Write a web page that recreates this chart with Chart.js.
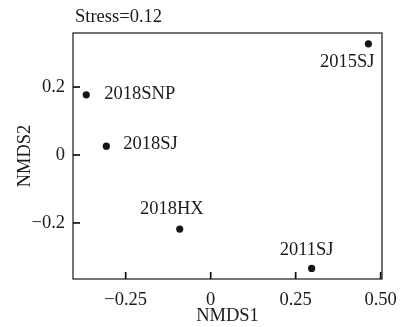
<!DOCTYPE html>
<html>
<head>
<meta charset="utf-8">
<script src="https://cdn.jsdelivr.net/npm/chart.js@4"></script>
<style>
  html, body { margin: 0; padding: 0; background: #fff; }
  #wrap { width: 408px; height: 327px; }
</style>
</head>
<body>
<div id="wrap"><canvas id="c" width="408" height="327"></canvas></div>
<script>
// NMDS ordination of sampling sites
const sites = ['2018SNP', '2018SJ', '2015SJ', '2018HX', '2011SJ'];
const nmds1 = [-0.366, -0.307, 0.464, -0.091, 0.297];
const nmds2 = [0.177, 0.026, 0.327, -0.218, -0.334];

const xTickValues = [-0.25, 0, 0.25, 0.5];
const xTickLabels = ['\u22120.25', '0', '0.25', '0.50'];
const yTickValues = [-0.2, 0, 0.2];
const yTickLabels = ['\u22120.2', '0', '0.2'];
const stressLabel = 'Stress=0.12';

const FONT = '"Liberation Serif", "Times New Roman", serif';
const INK = '#1a1a1a';

// where each site name sits relative to its point: [dx, dy, align]
const labelPlacement = {
  '2018SNP': [18, -1, 'left'],
  '2018SJ': [17, -2, 'left'],
  '2015SJ': [6, 18, 'right'],
  '2018HX': [-8, -20, 'center'],
  '2011SJ': [-5, -18, 'center']
};

const framePlugin = {
  id: 'frame',
  afterDraw(chart) {
    const { ctx, chartArea: ca, scales: { x, y } } = chart;
    ctx.save();
    ctx.strokeStyle = '#2a2a2a';
    ctx.lineWidth = 1.3;
    ctx.strokeRect(ca.left, ca.top, ca.right - ca.left, ca.bottom - ca.top);

    // inward tick marks
    ctx.strokeStyle = '#111';
    ctx.lineWidth = 1.7;
    for (const v of xTickValues) {
      const px = x.getPixelForValue(v);
      ctx.beginPath();
      ctx.moveTo(px, ca.bottom);
      ctx.lineTo(px, ca.bottom - 7);
      ctx.stroke();
    }
    for (const v of yTickValues) {
      const py = y.getPixelForValue(v);
      ctx.beginPath();
      ctx.moveTo(ca.left, py);
      ctx.lineTo(ca.left + 7, py);
      ctx.stroke();
    }

    // site names
    ctx.fillStyle = INK;
    ctx.font = '18.5px ' + FONT;
    ctx.textBaseline = 'middle';
    sites.forEach((s, i) => {
      const px = x.getPixelForValue(nmds1[i]);
      const py = y.getPixelForValue(nmds2[i]);
      const [dx, dy, align] = labelPlacement[s];
      ctx.textAlign = align;
      ctx.fillText(s, px + dx, py + dy);
    });

    // stress value above the frame
    ctx.textAlign = 'left';
    ctx.fillText(stressLabel, ca.left + 2, 17);
    ctx.restore();
  }
};

new Chart(document.getElementById('c'), {
  type: 'scatter',
  data: {
    datasets: [{
      data: sites.map((s, i) => ({ x: nmds1[i], y: nmds2[i] })),
      backgroundColor: '#151515',
      borderWidth: 0,
      pointRadius: 3.6,
      pointHoverRadius: 3.6
    }]
  },
  options: {
    responsive: false,
    animation: false,
    devicePixelRatio: 1,
    layout: { padding: { top: 33, right: 26, left: 0, bottom: 0 } },
    plugins: { legend: { display: false }, tooltip: { enabled: false } },
    scales: {
      x: {
        type: 'linear',
        min: -0.405,
        max: 0.504,
        afterBuildTicks: s => { s.ticks = xTickValues.map(v => ({ value: v })); },
        afterFit: s => { s.height = 48; },
        grid: { display: false, drawTicks: false },
        border: { display: false },
        ticks: {
          padding: 10,
          color: INK,
          font: { family: FONT, size: 18.5 },
          maxRotation: 0,
          autoSkip: false,
          callback: v => xTickLabels[xTickValues.indexOf(v)]
        },
        title: {
          display: true,
          text: 'NMDS1',
          color: INK,
          font: { family: FONT, size: 18.5, lineHeight: 1.2 },
          padding: { top: 2, bottom: 0 }
        }
      },
      y: {
        type: 'linear',
        min: -0.365,
        max: 0.359,
        afterBuildTicks: s => { s.ticks = yTickValues.map(v => ({ value: v })); },
        afterFit: s => { s.width = 73; },
        grid: { display: false, drawTicks: false },
        border: { display: false },
        ticks: {
          padding: 8,
          color: INK,
          font: { family: FONT, size: 18.5 },
          autoSkip: false,
          callback: v => yTickLabels[yTickValues.indexOf(v)]
        },
        title: {
          display: true,
          text: 'NMDS2',
          color: INK,
          font: { family: FONT, size: 18.5, lineHeight: 1.2 },
          padding: { top: 14, bottom: 0 }
        }
      }
    }
  },
  plugins: [framePlugin]
});
</script>
</body>
</html>
